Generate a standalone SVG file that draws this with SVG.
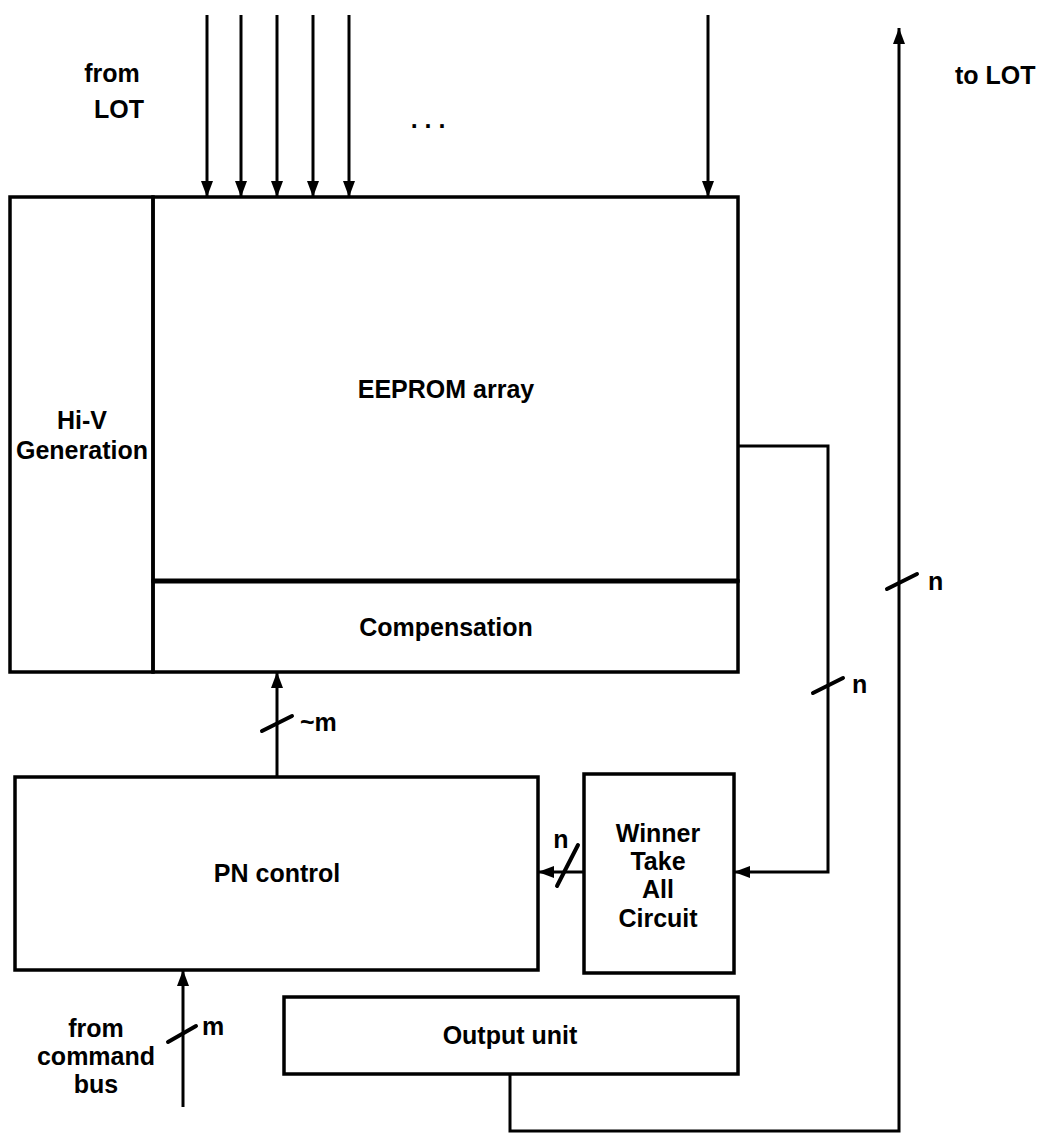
<svg xmlns="http://www.w3.org/2000/svg" width="1050" height="1134" viewBox="0 0 1050 1134">
<style>
.box{fill:none;stroke:#000;stroke-width:3.5}
.ln{fill:none;stroke:#000;stroke-width:3}
.sl{fill:none;stroke:#000;stroke-width:4;stroke-linecap:round}
text{font-family:"Liberation Sans",Arial,sans-serif;font-size:25px;font-weight:bold;fill:#000;text-anchor:middle}
.l{text-anchor:start}
</style>
<defs>
<marker id="ah" markerUnits="userSpaceOnUse" markerWidth="18" markerHeight="14" refX="16" refY="6" orient="auto">
<path d="M0,0 L16,6 L0,12 z" fill="#000"/>
</marker>
</defs>
<rect width="1050" height="1134" fill="#fff"/>
<g id="hiv">
<rect class="box" x="10" y="197" width="143" height="475"/>
<text x="82" y="429">Hi-V</text>
<text x="82" y="459">Generation</text>
</g>
<g id="eeprom">
<rect class="box" x="153" y="197" width="585" height="384"/>
<text x="446" y="398">EEPROM array</text>
</g>
<g id="compensation">
<rect class="box" x="153" y="581" width="585" height="91"/>
<line x1="153" y1="581" x2="738" y2="581" stroke="#000" stroke-width="5"/>
<text x="446" y="636">Compensation</text>
</g>
<g id="pn">
<rect class="box" x="15" y="777" width="523" height="193"/>
<text x="277" y="882">PN control</text>
</g>
<g id="wta">
<rect class="box" x="584" y="774" width="150" height="199"/>
<text x="658" y="842">Winner</text>
<text x="658" y="870">Take</text>
<text x="658" y="898">All</text>
<text x="658" y="927">Circuit</text>
</g>
<g id="output">
<rect class="box" x="284" y="997" width="454" height="77"/>
<text x="510" y="1044">Output unit</text>
</g>
<g id="labels">
<text x="112" y="82">from</text>
<text x="119" y="118">LOT</text>
<text x="428" y="128">. . .</text>
<text class="l" x="955" y="84">to LOT</text>
<text x="96" y="1037">from</text>
<text x="96" y="1065">command</text>
<text x="96" y="1093">bus</text>
<text class="l" x="928" y="590">n</text>
<text class="l" x="852" y="693">n</text>
<text x="561" y="848">n</text>
<text class="l" x="300" y="731">~m</text>
<text class="l" x="202" y="1035">m</text>
</g>
<g id="connectors">
<line class="ln" x1="207" y1="15" x2="207" y2="197" marker-end="url(#ah)"/>
<line class="ln" x1="241" y1="15" x2="241" y2="197" marker-end="url(#ah)"/>
<line class="ln" x1="277" y1="15" x2="277" y2="197" marker-end="url(#ah)"/>
<line class="ln" x1="313" y1="15" x2="313" y2="197" marker-end="url(#ah)"/>
<line class="ln" x1="349" y1="15" x2="349" y2="197" marker-end="url(#ah)"/>
<line class="ln" x1="708" y1="15" x2="708" y2="197" marker-end="url(#ah)"/>
<path class="ln" d="M738,446 H828 V872 H734" marker-end="url(#ah)"/>
<line class="ln" x1="584" y1="872" x2="538" y2="872" marker-end="url(#ah)"/>
<line class="ln" x1="277" y1="777" x2="277" y2="672" marker-end="url(#ah)"/>
<line class="ln" x1="183" y1="1107" x2="183" y2="970" marker-end="url(#ah)"/>
<path class="ln" d="M510,1074 V1131 H899 V28" marker-end="url(#ah)"/>
<line class="sl" x1="887" y1="589" x2="917" y2="574"/>
<line class="sl" x1="813" y1="693" x2="843" y2="678"/>
<line class="sl" x1="557" y1="886" x2="578" y2="845"/>
<line class="sl" x1="262" y1="731" x2="292" y2="716"/>
<line class="sl" x1="168" y1="1042" x2="196" y2="1026"/>
</g>
</svg>
